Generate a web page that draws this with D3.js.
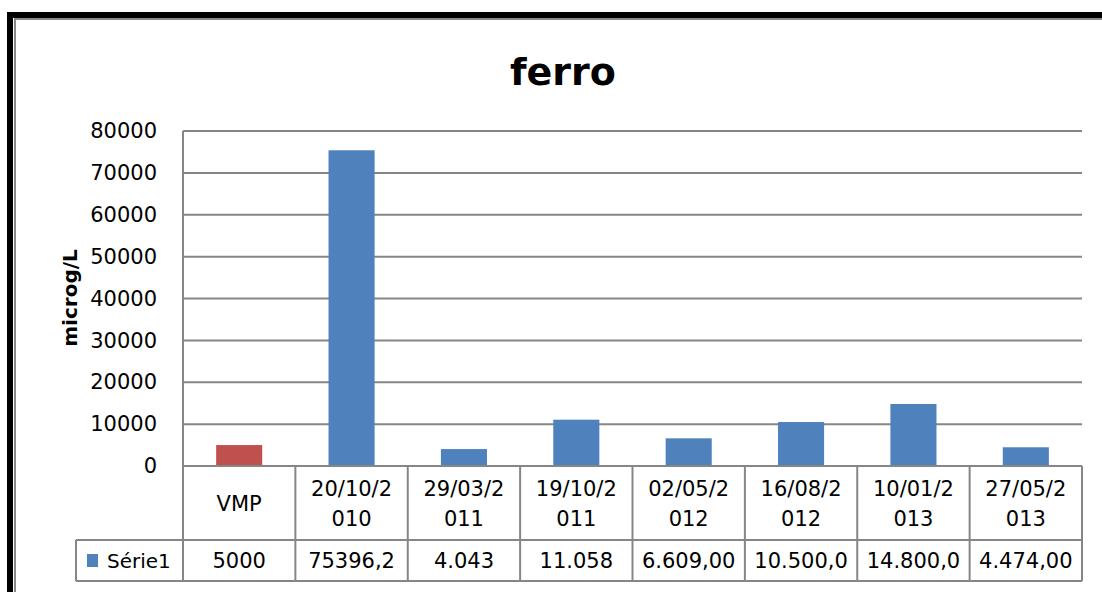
<!DOCTYPE html>
<html>
<head>
<meta charset="utf-8">
<script src="https://cdn.jsdelivr.net/npm/d3@7"></script>
<style>
  body { margin: 0; background: #fff; }
  text { font-family: "DejaVu Sans", sans-serif; fill: #000; }
</style>
</head>
<body>
<div id="chart"></div>
<script>
// categories and values
var categories = ["VMP", "20/10/2010", "29/03/2011", "19/10/2011", "02/05/2012", "16/08/2012", "10/01/2013", "27/05/2013"];
var values = [5000, 75396.2, 4043, 11058, 6609, 10500, 14800, 4474];
var tableLabels = ["5000", "75396,2", "4.043", "11.058", "6.609,00", "10.500,0", "14.800,0", "4.474,00"];
var yTicks = [0, 10000, 20000, 30000, 40000, 50000, 60000, 70000, 80000];
var seriesName = "Série1";

var width = 1102, height = 592;
var plotLeft = 183, plotRight = 1082, plotTop = 131, plotBottom = 466;
var row1 = 540, row2 = 581, legendLeft = 76;

var svg = d3.select("#chart").append("svg")
    .attr("width", width)
    .attr("height", height);

// outer frame (black, then thin gray inside)
svg.append("rect")
    .attr("x", 10).attr("y", 15)
    .attr("width", 1200).attr("height", 700)
    .attr("fill", "none").attr("stroke", "#000").attr("stroke-width", 6);
svg.append("rect")
    .attr("x", 15).attr("y", 19)
    .attr("width", 1200).attr("height", 700)
    .attr("fill", "none").attr("stroke", "#888").attr("stroke-width", 2);

var x = d3.scaleBand()
    .domain(categories)
    .range([plotLeft, plotRight])
    .padding(0);

var y = d3.scaleLinear()
    .domain([0, 80000])
    .range([plotBottom, plotTop]);

// gridlines
svg.append("g")
    .selectAll("line")
    .data(yTicks)
    .enter()
        .append("line")
        .attr("x1", plotLeft).attr("x2", plotRight)
        .attr("y1", function(d){ return y(d); })
        .attr("y2", function(d){ return y(d); })
        .attr("stroke", "#868686")
        .attr("stroke-width", 2);

// y axis labels
var yAxis = svg.append("g")
    .attr("transform", "translate(" + plotLeft + ",0)")
    .call(d3.axisLeft(y).tickValues(yTicks).tickSize(0).tickPadding(26).tickFormat(d3.format("d")));
yAxis.select(".domain").remove();
yAxis.selectAll("text")
    .style("font-family", "DejaVu Sans")
    .style("font-size", "21px")
    .attr("fill", "#000");

// bars
var barW = x.bandwidth() * 0.41;
svg.append("g")
    .selectAll("rect")
    .data(categories)
    .enter()
        .append("rect")
        .attr("x", function(d){ return x(d) + (x.bandwidth() - barW) / 2; })
        .attr("y", function(d, i){ return y(values[i]); })
        .attr("width", barW)
        .attr("height", function(d, i){ return y(0) - y(values[i]); })
        .attr("fill", function(d, i){ return i == 0 ? "#C0504D" : "#4F81BD"; });

// axis lines on top of bars
svg.append("line")
    .attr("x1", plotLeft).attr("x2", plotLeft)
    .attr("y1", plotTop).attr("y2", row2)
    .attr("stroke", "#868686").attr("stroke-width", 2);
svg.append("line")
    .attr("x1", plotLeft).attr("x2", plotRight)
    .attr("y1", plotBottom).attr("y2", plotBottom)
    .attr("stroke", "#868686").attr("stroke-width", 2);

// data table grid
var table = svg.append("g").attr("stroke", "#868686").attr("stroke-width", 2);
table.selectAll("line.v")
    .data(categories)
    .enter()
        .append("line")
        .attr("x1", function(d){ return x(d) + x.bandwidth(); })
        .attr("x2", function(d){ return x(d) + x.bandwidth(); })
        .attr("y1", plotBottom).attr("y2", row2);
table.append("line").attr("x1", legendLeft).attr("x2", plotRight).attr("y1", row1).attr("y2", row1);
table.append("line").attr("x1", legendLeft).attr("x2", plotRight).attr("y1", row2).attr("y2", row2);
table.append("line").attr("x1", legendLeft).attr("x2", legendLeft).attr("y1", row1).attr("y2", row2);

// category labels (wrapped like Excel)
var catText = svg.append("g")
    .selectAll("text")
    .data(categories)
    .enter()
        .append("text")
        .attr("text-anchor", "middle")
        .style("font-size", "21px");
catText.each(function(d){
    var t = d3.select(this);
    var cx = x(d) + x.bandwidth() / 2;
    if (d.length > 7) {
        t.append("tspan").attr("x", cx).attr("y", 496).text(d.slice(0, 7));
        t.append("tspan").attr("x", cx).attr("y", 526).text(d.slice(7));
    } else {
        t.append("tspan").attr("x", cx).attr("y", 511).text(d);
    }
});

// value row
svg.append("g")
    .selectAll("text")
    .data(tableLabels)
    .enter()
        .append("text")
        .attr("x", function(d, i){ return x(categories[i]) + x.bandwidth() / 2; })
        .attr("y", 568)
        .attr("text-anchor", "middle")
        .style("font-size", "21px")
        .text(function(d){ return d; });

// legend key in table
svg.append("rect")
    .attr("x", 87).attr("y", 554)
    .attr("width", 11).attr("height", 13)
    .attr("fill", "#4F81BD");
svg.append("text")
    .attr("x", 107).attr("y", 568)
    .style("font-size", "20px")
    .text(seriesName);

// title
svg.append("text")
    .attr("x", 563).attr("y", 85)
    .attr("text-anchor", "middle")
    .style("font-size", "38px")
    .style("font-weight", "bold")
    .text("ferro");

// y axis title
svg.append("text")
    .attr("transform", "translate(77,298) rotate(-90)")
    .attr("text-anchor", "middle")
    .style("font-size", "20px")
    .style("font-weight", "bold")
    .text("microg/L");
</script>
</body>
</html>
